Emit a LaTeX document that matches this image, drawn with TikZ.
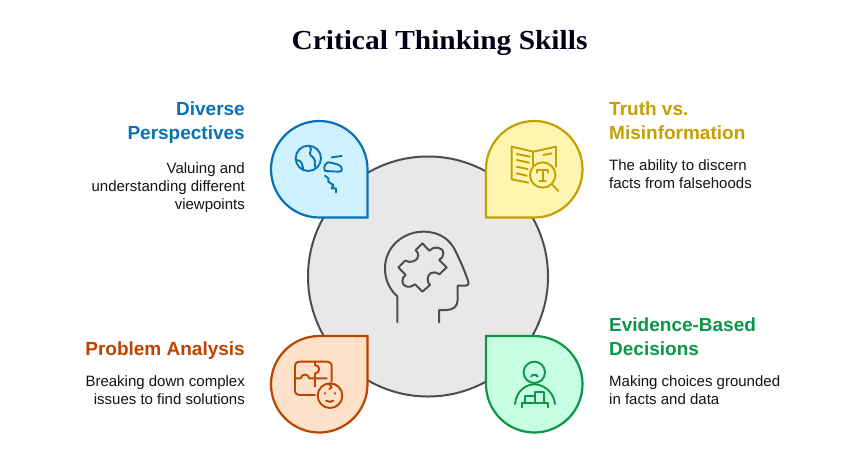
\documentclass[tikz,border=0pt]{standalone}
\usepackage{fontspec}
\setmainfont{Liberation Sans}
\newfontfamily\titlefont[FakeStretch=1.07]{Liberation Serif}
\definecolor{bluestroke}{HTML}{0A70B5}\definecolor{bluefill}{HTML}{CEF1FF}
\definecolor{yelstroke}{HTML}{C4A000}\definecolor{yelfill}{HTML}{FFF5B0}
\definecolor{orastroke}{HTML}{BF4300}\definecolor{orafill}{HTML}{FFE0C8}
\definecolor{grnstroke}{HTML}{0C9648}\definecolor{grnfill}{HTML}{C6FFE1}
\definecolor{greystroke}{HTML}{4D4D4D}\definecolor{greyfill}{HTML}{E8E8E8}
\tikzset{
 drop/.style={line width=2.2pt,line join=miter},
 icon/.style={line width=1.9pt,line cap=round,line join=round},
 heading/.style={inner sep=0pt,font=\fontsize{19}{24}\selectfont\bfseries},
 body/.style={inner sep=0pt,text=black!92,font=\fontsize{15}{18}\selectfont},
 zoomBlue/.style={shift={(260pt,-110pt)},x=0.3333pt,y=-0.3333pt},
 zoomYel/.style={shift={(475pt,-110pt)},x=0.3333pt,y=-0.3333pt},
 zoomOra/.style={shift={(260pt,-325pt)},x=0.3333pt,y=-0.3333pt},
 zoomGrn/.style={shift={(475pt,-325pt)},x=0.3333pt,y=-0.3333pt},
 zoomHead/.style={shift={(375pt,-225pt)},x=0.3333pt,y=-0.3333pt},
}
\begin{document}
\begin{tikzpicture}[x=1pt,y=-1pt]
\useasboundingbox[fill=white] (0,0) rectangle (842,475);
\node[font=\fontsize{27.5}{30}\selectfont\titlefont\bfseries,text=black!90!blue] (title) at (439.5,43) {Critical Thinking Skills};
\draw[line width=2pt,draw=greystroke,fill=greyfill] (428,276.5) circle (120);
% teardrops
\draw[drop,draw=bluestroke,fill=bluefill] (367.5,217.5) -- (319.25,217.5) arc[start angle=90,end angle=360,radius=48.25] -- cycle;
\draw[drop,draw=yelstroke,fill=yelfill] (486,217.5) -- (486,169.25) arc[start angle=180,end angle=450,radius=48.25] -- cycle;
\draw[drop,draw=orastroke,fill=orafill] (367.5,336) -- (367.5,384.25) arc[start angle=0,end angle=270,radius=48.25] -- cycle;
\draw[drop,draw=grnstroke,fill=grnfill] (486,336) -- (534.25,336) arc[start angle=-90,end angle=180,radius=48.25] -- cycle;
% head
\begin{scope}[zoomHead,icon,draw=greystroke,line width=2pt]
\draw (67,292) -- (67,214) .. controls (40,190) and (30,160) .. (30,130) .. controls (30,65) and (85,20) .. (145,20) .. controls (195,20) and (225,45) .. (240,75) .. controls (255,105) and (270,140) .. (280,170) .. controls (282,178) and (280,182) .. (272,182) -- (248,182) -- (248,225) .. controls (248,243) and (235,255) .. (215,255) -- (192,255) -- (192,292);
\draw (70,127) -- (90,107) .. controls (105,115) and (130,110) .. (130,90) .. controls (130,85) and (126,80) .. (122,75) -- (142,55) -- (163,77) .. controls (175,62) and (205,65) .. (205,85) .. controls (205,95) and (200,100) .. (193,105) -- (215,127) -- (193,148) .. controls (175,135) and (158,145) .. (158,162) .. controls (158,170) and (160,175) .. (165,180) -- (142,200) -- (120,178) .. controls (105,192) and (80,185) .. (82,168) .. controls (82,160) and (86,155) .. (92,150) -- cycle;
\end{scope}
% blue icon
\begin{scope}[zoomBlue,icon,draw=bluestroke]
\draw (145,145) circle[radius=38];
\draw (150,110) .. controls (158,120) and (145,128) .. (152,136) .. controls (160,142) and (168,150) .. (164,160) -- (166,172);
\draw (110,150) .. controls (125,150) and (128,165) .. (130,181);
\draw (215,142) -- (245,138);
\draw (195,183) .. controls (188,170) and (198,158) .. (205,157) .. controls (225,160) and (245,165) .. (245,175) .. controls (247,185) and (240,185) .. (235,185) -- cycle;
\draw (195,197) -- (205,205) -- (205,215) -- (220,225) -- (215,235) -- (228,235) -- (228,247);
\end{scope}
% yellow icon
\begin{scope}[zoomYel,icon,draw=yelstroke]
\draw (160,218) -- (110,208) -- (110,110) -- (175,125) -- (243,110) -- (243,170);
\draw (175,125) -- (175,165);
\draw (125,132) -- (165,140) (125,150) -- (162,158) (125,170) -- (158,177) (125,190) -- (155,197) (205,135) -- (230,130);
\draw (203,195) circle[radius=38];
\draw (232,224) -- (250,243);
\draw (187,188) -- (187,180) -- (219,180) -- (219,188) (203,180) -- (203,212) (193,212) -- (213,212);
\end{scope}
% orange icon
\begin{scope}[zoomOra,icon,draw=orastroke]
\draw (165,210) -- (120,210) .. controls (110,210) and (105,205) .. (105,195) -- (105,125) .. controls (105,115) and (110,110) .. (120,110) -- (200,110) .. controls (210,110) and (215,115) .. (215,125) -- (215,170);
\draw (105,160) -- (122,160) .. controls (125,145) and (145,145) .. (148,160) -- (200,160);
\draw (165,110) -- (165,120) .. controls (182,122) and (182,142) .. (165,146) -- (165,185);
\draw (210,212) circle[radius=37];
\fill[orastroke] (195,205) circle[radius=4] (225,205) circle[radius=4];
\draw (198,227) .. controls (205,232) and (215,232) .. (220,227);
\draw (205,176) .. controls (215,182) and (218,190) .. (208,192);
\end{scope}
% green icon
\begin{scope}[zoomGrn,icon,draw=grnstroke]
\draw (178,142) circle[radius=32];
\draw (168,155) .. controls (172,147) and (184,147) .. (188,155);
\draw (120,237) .. controls (125,195) and (155,178) .. (178,178) .. controls (200,178) and (235,195) .. (240,237);
\draw (140,247) -- (140,235) -- (218,235) -- (218,247);
\draw (150,235) -- (150,212) -- (180,212) -- (180,235);
\draw (180,212) -- (180,200) -- (208,200) -- (208,235);
\end{scope}
% texts
\node[heading,text=bluestroke,anchor=north east,align=right] (h1) at (245,101.5) {Diverse\\Perspectives};
\node[body,anchor=north east,align=right] (b1) at (245,162.5) {Valuing and\\understanding different\\viewpoints};
\node[heading,text=yelstroke,anchor=north west,align=left] (h2) at (609,101.5) {Truth vs.\\Misinformation};
\node[body,anchor=north west,align=left] (b2) at (609,159.5) {The ability to discern\\facts from falsehoods};
\node[heading,text=orastroke,anchor=north east,align=right] (h3) at (245,341.5) {Problem Analysis};
\node[body,anchor=north east,align=right] (b3) at (245,375.5) {Breaking down complex\\issues to find solutions};
\node[heading,text=grnstroke,anchor=north west,align=left] (h4) at (609,317.5) {Evidence-Based\\Decisions};
\node[body,anchor=north west,align=left] (b4) at (609,375.5) {Making choices grounded\\in facts and data};
\end{tikzpicture}
\end{document}
